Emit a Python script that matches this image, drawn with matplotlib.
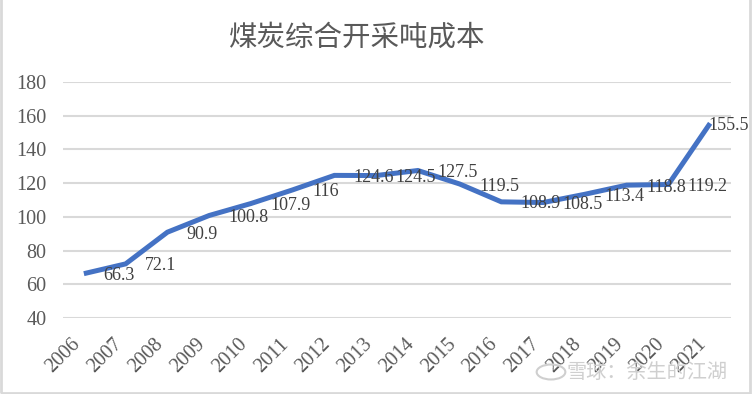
import matplotlib.pyplot as plt
from matplotlib.patches import Rectangle

years = [str(y) for y in range(2006, 2022)]
cost = [66.3, 72.1, 90.9, 100.8, 107.9, 116, 124.6, 124.5, 127.5, 119.5,
        108.9, 108.5, 113.4, 118.8, 119.2, 155.5]
yticks = [40, 60, 80, 100, 120, 140, 160, 180]

plt.rcParams['font.family'] = ['Liberation Serif', 'Noto Sans CJK SC', 'DejaVu Sans']

fig = plt.figure(figsize=(7.55, 3.94), dpi=100)
ax = fig.add_axes([63/755, 1-318/394, (731-63)/755, (318-82)/394])

x = list(range(len(years)))
ax.plot(x, cost, color='#4472C4', lw=3.6, solid_joinstyle='miter', solid_capstyle='butt')

# data labels to the right of each point (last one pulled back inside the chart)
for i, v in enumerate(cost):
    dx = 14 if i < len(cost) - 1 else -1
    ax.annotate(f'{v:g}', (i, v), xytext=(dx, -1.5), textcoords='offset points',
                ha='left', va='center', fontsize=13, color='#404040',
                family='Liberation Serif')

ax.set_xlim(-0.5, len(years) - 0.5)
ax.set_ylim(40, 180)
ax.set_yticks(yticks)
ax.set_yticklabels([str(t) for t in yticks], family='Liberation Serif', fontsize=14.5,
                   color='#595959')
ax.set_xticks(x)
ax.set_xticklabels(years, rotation=45, ha='right', va='top', family='Liberation Serif',
                   fontsize=14.5, color='#595959')
ax.tick_params(axis='both', length=0)
ax.tick_params(axis='x', pad=12)
ax.tick_params(axis='y', pad=12)
ax.grid(axis='y', color='#d9d9d9', lw=1.5)
ax.set_axisbelow(True)
for s in ax.spines.values():
    s.set_visible(False)

fig.text(357/755, 1-38/394, '煤炭综合开采吨成本', ha='center', va='center',
         fontsize=20.5, color='#595959', family=['Noto Sans CJK SC'])

# chart border
fig.patches.append(Rectangle((1/755, 1/394), 749/755, 395/394, transform=fig.transFigure,
                             fill=False, edgecolor='#d9d9d9', lw=2))

# watermark
fig.patches.append(plt.Circle((551/755, 1-372/394), 0.019, transform=fig.transFigure,
                              fill=False, edgecolor='#cfcfcf', lw=1.5))
fig.text(566/755, 1-372/394, '雪球：余生的江湖', ha='left', va='center', fontsize=14.5,
         color='#cfcfcf', family=['Noto Sans CJK SC'])

fig.savefig('out.png', dpi=100)
